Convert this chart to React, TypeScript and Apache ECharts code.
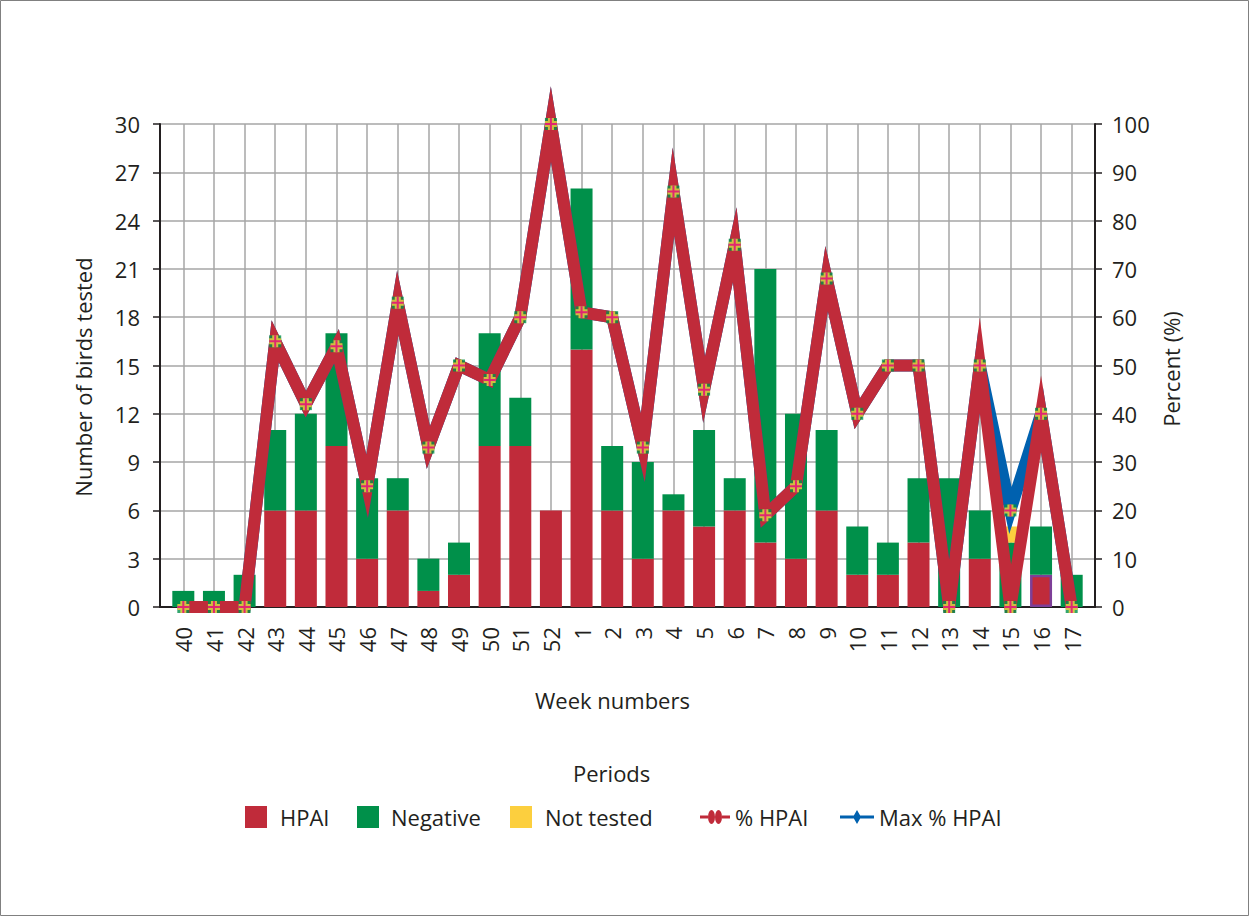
import React, { useEffect, useRef } from "react";
import * as echarts from "echarts";

const weeks = ["40","41","42","43","44","45","46","47","48","49","50","51","52","1","2","3","4","5","6","7","8","9","10","11","12","13","14","15","16","17"];
const hpai =      [0,0,0,6,6,10,3,6,1,2,10,10,6,16,6,3,6,5,6,4,3,6,2,2,4,0,3,0,2,0];
const negative =  [1,1,2,5,6,7,5,2,2,2,7,3,0,10,4,6,1,6,2,17,9,5,3,2,4,8,3,4,3,2];
const notTested = [0,0,0,0,0,0,0,0,0,0,0,0,0,0,0,0,0,0,0,0,0,0,0,0,0,0,0,1,0,0];
const pctHpai =    [0,0,0,55,42,54,25,63,33,50,47,60,100,61,60,33,86,45,75,19,25,68,40,50,50,0,50,0,40,0];
const maxPctHpai = [0,0,0,55,42,54,25,63,33,50,47,60,100,61,60,33,86,45,75,19,25,68,40,50,50,0,50,20,40,0];
const countTicks = { min: 0, max: 30, interval: 3 };
const pctTicks = { min: 0, max: 100, interval: 10 };

const RED = "#C02B3A";
const GREEN = "#00904A";
const YELLOW = "#FCCF3E";
const BLUE = "#0061AF";
const MAGENTA = "#E5007D";
const TXT = "#231F20";
const GRID = "#A6A6A6";
const FONT = "Open Sans";

// plot geometry (pixels)
const PLOT_TOP = 124;
const PLOT_H = 483;
const LINE_TOP = 60; // taller grid for the lines so that peaks are not clipped at the top

export default function App() {
  const ref = useRef<HTMLDivElement>(null);
  useEffect(() => {
    if (!ref.current) return;
    const chart = echarts.init(ref.current, undefined, { renderer: "svg" });
    const markerPts: number[][] = pctHpai.map((v, i) => [i, v]);
    maxPctHpai.forEach((v, i) => {
      if (v !== pctHpai[i]) markerPts.push([i, v]);
    });
    const lineH = PLOT_TOP + PLOT_H - LINE_TOP;
    const lineMax = (pctTicks.max * lineH) / PLOT_H;
    const txt = { fontFamily: FONT, fontSize: 22, color: TXT };
    const legendBase = {
      top: 806,
      padding: 0,
      selectedMode: false,
      itemHeight: 22,
    };
    const option: any = {
      animation: false,
      backgroundColor: "#fff",
      title: [
        { text: "Week numbers", left: 535, top: 689, padding: 0, textStyle: { ...txt, fontWeight: "normal", lineHeight: 22 } },
        { text: "Periods", left: 573, top: 762, padding: 0, textStyle: { ...txt, fontWeight: "normal", lineHeight: 22 } },
      ],
      legend: [
        { ...legendBase, left: 245, itemWidth: 22, icon: "rect", data: ["HPAI"], textStyle: { ...txt, lineHeight: 22, padding: [0, 0, 0, 8] } },
        { ...legendBase, left: 357, itemWidth: 22, icon: "rect", data: ["Negative"], textStyle: { ...txt, lineHeight: 22, padding: [0, 0, 0, 7] } },
        { ...legendBase, left: 510, itemWidth: 22, icon: "rect", data: ["Not tested"], textStyle: { ...txt, lineHeight: 22, padding: [0, 0, 0, 8] } },
        {
          ...legendBase, left: 700, itemWidth: 30, itemHeight: 14,
          icon: "path://M0,5.5H8V8.5H0Z M22,5.5H30V8.5H22Z M8,7A3.5,7 0 1 1 15,7A3.5,7 0 1 1 8,7Z M15,7A3.5,7 0 1 1 22,7A3.5,7 0 1 1 15,7Z",
          itemStyle: { color: RED, borderWidth: 0 },
          data: ["% HPAI"], textStyle: { ...txt, lineHeight: 22 },
        },
        {
          ...legendBase, left: 840, itemWidth: 34, itemHeight: 14,
          icon: "path://M0,5.5H34V8.5H0Z M17,0L21,7L17,14L13,7Z",
          itemStyle: { color: BLUE, borderWidth: 0 },
          data: ["Max % HPAI"], textStyle: { ...txt, lineHeight: 22 },
        },
      ],
      grid: [
        { left: 168, top: PLOT_TOP, width: 919, height: PLOT_H },
        { left: 160, top: PLOT_TOP, width: 935, height: PLOT_H },
        { left: 183.3, top: PLOT_TOP, width: 888.4, height: PLOT_H },
        { left: 168, top: LINE_TOP, width: 919, height: lineH },
      ],
      xAxis: [
        {
          gridIndex: 0, type: "category", data: weeks, boundaryGap: true,
          axisLine: { show: false }, axisTick: { show: false }, splitLine: { show: false },
          axisLabel: { ...txt, rotate: 90, margin: 20, interval: 0 },
        },
        {
          gridIndex: 1, type: "value", min: 0, max: 1,
          axisLine: { show: true, onZero: false, lineStyle: { color: TXT, width: 2 } },
          axisTick: { show: false }, axisLabel: { show: false }, splitLine: { show: false },
        },
        {
          gridIndex: 2, type: "category", data: weeks, boundaryGap: false,
          axisLine: { show: false }, axisTick: { show: false, interval: 0 }, axisLabel: { show: false, interval: 0 },
          splitLine: { show: true, interval: 0, lineStyle: { color: GRID, width: 1.5 } },
        },
        { gridIndex: 3, type: "category", data: weeks, boundaryGap: true, show: false },
      ],
      yAxis: [
        { gridIndex: 0, type: "value", ...countTicks, show: false },
        { gridIndex: 0, type: "value", ...pctTicks, show: false },
        {
          gridIndex: 1, type: "value", position: "left", ...countTicks,
          axisLine: { show: true, lineStyle: { color: TXT, width: 2 } },
          axisTick: { show: true, length: 7, lineStyle: { color: TXT, width: 1.5 } },
          axisLabel: { ...txt, margin: 20 },
          splitLine: { show: true, lineStyle: { color: GRID, width: 1.5 } },
        },
        {
          gridIndex: 1, type: "value", position: "right", ...pctTicks,
          axisLine: { show: true, lineStyle: { color: TXT, width: 2 } },
          axisTick: { show: true, length: 7, lineStyle: { color: TXT, width: 1.5 } },
          axisLabel: { ...txt, margin: 17 },
          splitLine: { show: false },
        },
        { gridIndex: 2, type: "value", min: 0, max: 1, show: false },
        { gridIndex: 3, type: "value", min: 0, max: lineMax, show: false },
      ],
      series: [
        {
          name: "HPAI", type: "bar", stack: "birds", xAxisIndex: 0, yAxisIndex: 0, barWidth: 22,
          itemStyle: { color: RED },
          data: hpai.map((v, i) => (weeks[i] === "16" ? { value: v, itemStyle: { borderColor: "#7D3F98", borderWidth: 2.5 } } : v)),
        },
        { name: "Negative", type: "bar", stack: "birds", xAxisIndex: 0, yAxisIndex: 0, barWidth: 22, itemStyle: { color: GREEN }, data: negative },
        { name: "Not tested", type: "bar", stack: "birds", xAxisIndex: 0, yAxisIndex: 0, barWidth: 22, itemStyle: { color: YELLOW }, data: notTested },
        {
          name: "Max % HPAI", type: "line", xAxisIndex: 3, yAxisIndex: 5, data: maxPctHpai, symbol: "none", clip: true, z: 3,
          itemStyle: { color: BLUE },
          lineStyle: { color: BLUE, width: 12, join: "miter", miterLimit: 12 },
        },
        {
          name: "% HPAI", type: "line", xAxisIndex: 3, yAxisIndex: 5, data: pctHpai, symbol: "none", clip: true, z: 4,
          itemStyle: { color: RED },
          lineStyle: { color: RED, width: 12, join: "miter", miterLimit: 12 },
        },
        {
          type: "scatter", xAxisIndex: 3, yAxisIndex: 5, data: markerPts, z: 5, clip: false,
          symbol: "rect", symbolSize: 12, itemStyle: { color: GREEN }, silent: true,
        },
        {
          type: "scatter", xAxisIndex: 3, yAxisIndex: 5, data: markerPts, z: 6, clip: false,
          symbol: "path://M3,0H9V3H12V9H9V12H3V9H0V3H3Z", symbolSize: 12, itemStyle: { color: YELLOW }, silent: true,
        },
        {
          type: "scatter", xAxisIndex: 3, yAxisIndex: 5, data: markerPts, z: 7, clip: false,
          symbol: "path://M5,0H7V5H12V7H7V12H5V7H0V5H5Z", symbolSize: 12, itemStyle: { color: MAGENTA }, silent: true,
        },
      ],
      graphic: [
        { type: "rect", shape: { x: 0.5, y: 0.5, width: 1248, height: 915 }, style: { fill: "none", stroke: "#808080", lineWidth: 1 }, silent: true },
        {
          type: "text", x: 83, y: 377, rotation: Math.PI / 2,
          style: { text: "Number of birds tested", fontFamily: FONT, fontSize: 22, fill: TXT, align: "center", verticalAlign: "middle" },
        },
        {
          type: "text", x: 1171, y: 369, rotation: Math.PI / 2,
          style: { text: "Percent (%)", fontFamily: FONT, fontSize: 22, fill: TXT, align: "center", verticalAlign: "middle" },
        },
      ],
    };
    chart.setOption(option);
    return () => chart.dispose();
  }, []);
  return (
    <div style={{ position: "fixed", left: 0, top: 0, width: 1250, height: 917, background: "#fff" }}>
      <div ref={ref} style={{ width: 1250, height: 917 }} />
    </div>
  );
}
